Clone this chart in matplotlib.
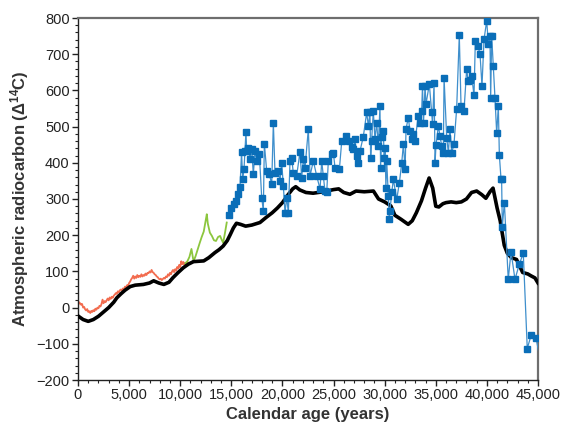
import numpy as np
import matplotlib
matplotlib.use("Agg")
import matplotlib.pyplot as plt

plt.rcParams["font.family"] = ["Liberation Sans", "DejaVu Sans"]
plt.rcParams["mathtext.fontset"] = "custom"
plt.rcParams["mathtext.bf"] = "Liberation Sans:bold"
plt.rcParams["mathtext.rm"] = "Liberation Sans"

# black reference curve
black_age = [0, 500, 1000, 1500, 2000, 2500, 3000, 3500, 3800, 4200, 4600, 5100, 5600, 6400,
             7000, 7400, 7900, 8400, 8900, 9300, 9800, 10300, 10800, 11300, 12300, 12800,
             13400, 13800, 14200, 14600, 14900, 15200, 15500, 15900, 16400, 17000, 17800,
             18400, 19000, 19500, 20000, 20500, 21000, 21300, 21700, 22300, 23000, 24000,
             25000, 25500, 26000, 26600, 27200, 28000, 28900, 29400, 30000, 30600, 31000,
             31600, 32300, 32700, 33100, 33600, 34000, 34350, 34700, 35000, 35300, 35700,
             36000, 36500, 37000, 37500, 38000, 38500, 39000, 39500, 39900, 40300, 40600,
             41000, 41300, 41700, 42000, 42400, 42900, 43200, 43500, 44000, 44300, 44700, 45000]
black_d14c = [-23, -33, -38, -33, -24, -12, 0, 15, 27, 38, 48, 58, 62, 64,
              68, 74, 68, 64, 70, 83, 97, 110, 120, 127, 129, 138,
              152, 160, 170, 185, 202, 220, 233, 230, 225, 228, 235,
              249, 262, 275, 290, 310, 328, 334, 325, 318, 316, 320,
              326, 328, 318, 313, 322, 320, 322, 300, 292, 281, 255,
              244, 230, 240, 262, 295, 330, 358, 330, 280, 278, 287,
              290, 292, 290, 292, 300, 318, 322, 312, 302, 320, 330,
              275, 240, 172, 150, 138, 133, 115, 97, 93, 88, 82, 68]

# orange (tree rings)
orange_age = list(range(0, 10900, 100))
orange_d14c = [5, 15, 12, 8, 10, 0, 2, -5, -8, -4, -12, -10, -15, -9, -12, -7, -10, -3, -6, 0,
               -2, 5, 3, 10, 22, 12, 18, 15, 20, 25, 20, 28, 24, 30, 27, 33, 36, 40, 38, 45,
               42, 48, 50, 47, 53, 50, 58, 55, 62, 60, 68, 72, 78, 82, 88, 80, 86, 82, 90, 84,
               88, 85, 92, 86, 90, 88, 94, 90, 96, 95, 100, 97, 104, 98, 96, 92, 90, 86, 84, 80,
               78, 80, 76, 79, 82, 80, 86, 84, 92, 88, 96, 92, 100, 104, 98, 106, 102, 112, 108, 118,
               112, 128, 120, 126, 118, 124, 120, 126, 122]

# green
green_age = [10500, 10700, 10900, 11100, 11200, 11300, 11500, 11700, 11900, 12100, 12300,
             12500, 12600, 12700, 12900, 13100, 13300, 13500, 13700, 13900, 14050, 14200,
             14400, 14550]
green_d14c = [122, 128, 140, 162, 145, 128, 142, 160, 178, 195, 210,
              242, 258, 232, 207, 198, 186, 184, 195, 198, 188, 179,
              210, 235]

# blue squares
blue_age = [14750, 15000, 15250, 15500, 15680, 15850, 16000, 16110, 16240, 16330, 16430, 16500,
            16660, 16830, 16990, 17150, 17320, 17480, 17740, 17970, 18130, 18230, 18460, 18700,
            18950, 19110, 19270, 19600, 19760, 19930, 20090, 20250, 20420, 20580, 20740, 20900,
            21060, 21390, 21720, 21880, 22050, 22210, 22530, 22700, 23020, 23350, 23680, 23840,
            24000, 24160, 24330, 24490, 24820, 24980, 25140, 25570, 25800, 26220, 26500, 26770,
            26940, 27100, 27260, 27420, 27590, 27910, 28240, 28400, 28560, 28630, 28720, 28890,
            29050, 29220, 29380, 29540, 29600, 29710, 29870, 29950, 30040, 30120, 30200, 30360,
            30450, 30520, 30690, 30850, 31180, 31440, 31670, 31830, 32000, 32090, 32310, 32480,
            32640, 32800, 32970, 33290, 33450, 33620, 33700, 33800, 33950, 34040, 34370, 34600,
            34680, 34830, 34930, 35020, 35250, 35420, 35580, 35740, 35810, 36070, 36230, 36390,
            36560, 36780, 37040, 37300, 37470, 37760, 38020, 38180, 38350, 38510, 38740, 38870,
            39130, 39330, 39520, 39720, 39980, 40150, 40300, 40370, 40470, 40630, 40790, 40960,
            41120, 41220, 41380, 41440, 41510, 41710, 42090, 42360, 42750, 43170, 43560, 43950,
            44320, 44800, 45600]
blue_d14c = [255, 275, 285, 295, 313, 334, 430, 354, 382, 433, 486, 433,
             442, 410, 439, 368, 433, 405, 425, 304, 267, 453, 377, 370,
             341, 511, 373, 377, 350, 400, 336, 262, 304, 262, 405, 414,
             373, 364, 431, 359, 410, 386, 493, 364, 405, 364, 327, 405,
             364, 322, 318, 405, 423, 428, 387, 382, 460, 474, 460, 445,
             437, 465, 419, 400, 433, 472, 539, 502, 539, 412, 460, 543,
             465, 511, 446, 557, 387, 470, 488, 414, 442, 331, 405, 308,
             244, 267, 318, 354, 299, 345, 400, 451, 382, 493, 525, 488,
             465, 479, 460, 529, 511, 543, 612, 511, 612, 562, 617, 539,
             506, 620, 400, 448, 502, 474, 446, 428, 635, 469, 428, 493,
             428, 451, 548, 752, 557, 543, 658, 625, 630, 640, 586, 737,
             722, 700, 612, 741, 792, 727, 750, 580, 750, 667, 580, 481,
             557, 421, 356, 354, 224, 290, 78, 154, 78, 120, 150, -113,
             -77, -83, -200]

fig = plt.figure(figsize=(5.62, 4.28), dpi=100)
ax = fig.add_axes([78 / 562, 48 / 428, 460 / 562, 362 / 428])

ax.plot(orange_age, orange_d14c, color="#f26c4f", lw=1.3)
ax.plot(green_age, green_d14c, color="#8cc63e", lw=1.3)
ax.plot(black_age, black_d14c, color="black", lw=2.6, zorder=3)
ax.plot(blue_age, blue_d14c, color="#3f8fcc", lw=0.9, marker="s", ms=4.6,
        mfc="#0a6eb8", mec="#0a6eb8", zorder=4)

ax.set_xlim(0, 45000)
ax.set_ylim(-200, 800)
ax.set_xticks(np.arange(0, 45001, 5000))
ax.set_xticks(np.arange(0, 45001, 1000), minor=True)
ax.set_yticks(np.arange(-200, 801, 100))
ax.set_yticks(np.arange(-200, 801, 20), minor=True)
ax.set_xticklabels([f"{v:,}" for v in range(0, 45001, 5000)])
ax.set_yticklabels([str(v).replace("-", "\u2212") for v in range(-200, 801, 100)])
ax.tick_params(which="major", direction="out", length=4, width=1, labelsize=10.5,
               colors="#222222", pad=2)
ax.tick_params(which="minor", direction="out", length=2, width=0.8, color="#222222")
ax.tick_params(top=False, right=False, which="both")

for s in ["top", "right"]:
    ax.spines[s].set_color("#6e6e6e")
    ax.spines[s].set_linewidth(1.6)
for s in ["left", "bottom"]:
    ax.spines[s].set_color("#222222")
    ax.spines[s].set_linewidth(1.0)

ax.set_xlabel("Calendar age (years)", fontsize=12, fontweight="bold", color="#333333", labelpad=3)
ax.set_ylabel("Atmospheric radiocarbon (Δ$\\mathbf{^{14}}$C)", fontsize=12,
              fontweight="bold", color="#333333", labelpad=4)

fig.savefig("out.png", dpi=100)
